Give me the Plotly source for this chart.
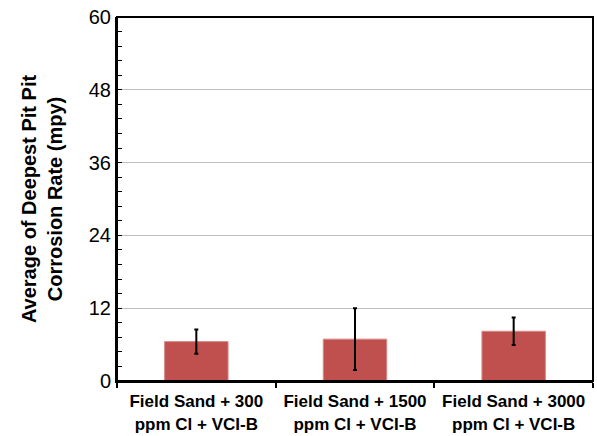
import plotly.graph_objects as go

categories = ["Field Sand + 300<br>ppm Cl + VCI-B",
              "Field Sand + 1500<br>ppm Cl + VCI-B",
              "Field Sand + 3000<br>ppm Cl + VCI-B"]
values = [6.5, 6.9, 8.2]
errors = [2.0, 5.1, 2.25]
y_ticks = [0, 12, 24, 36, 48, 60]

fig = go.Figure()
fig.add_trace(go.Bar(
    x=categories, y=values,
    marker=dict(color="#C0504D", line=dict(color="#D88A88", width=1)),
    width=0.4,
    error_y=dict(type="data", array=errors, visible=True, color="black",
                 thickness=2, width=2),
))
fig.update_layout(
    width=597, height=436,
    margin=dict(l=117, r=4, t=17, b=55),
    plot_bgcolor="white", paper_bgcolor="white",
    font=dict(family="Liberation Sans, Arial", color="black"),
    showlegend=False,
    shapes=[dict(type="rect", xref="paper", yref="paper", x0=0, x1=1, y0=0, y1=1,
                 line=dict(color="black", width=2), fillcolor="rgba(0,0,0,0)")],
)
fig.update_xaxes(
    showline=True, linecolor="black", linewidth=2,
    ticks="outside", tickson="boundaries", ticklen=5, tickcolor="black", tickwidth=2,
    tickfont=dict(size=17, family="Liberation Sans, Arial", weight="bold"),
    ticklabelstandoff=4, automargin=False,
    showgrid=False,
)
fig.update_yaxes(
    range=[0, 60], tickvals=y_ticks,
    showline=True, linecolor="black", linewidth=2,
    ticks="inside", ticklen=0, tickfont=dict(size=20),
    ticklabeloverflow="allow",
    showgrid=True, gridcolor="#BFBFBF", gridwidth=1,
    minor=dict(dtick=2.4, ticks="inside", ticklen=5, tickcolor="black", tickwidth=1, showgrid=False),
    title=dict(text="Average of Deepest Pit Pit<br>Corrosion Rate (mpy)",
               font=dict(size=20, weight="bold"), standoff=21),
    zeroline=False,
)
fig.write_html("out.html", config={"displayModeBar": False})

with open("out.html", "r", encoding="utf-8") as f:
    html = f.read()
html = html.replace("<head>", "<head><style>html,body{margin:0;padding:0;}</style>", 1)
with open("out.html", "w", encoding="utf-8") as f:
    f.write(html)
